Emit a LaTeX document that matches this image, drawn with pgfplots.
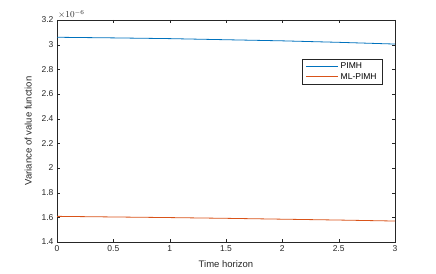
\documentclass[border=0pt]{standalone}
\usepackage{pgfplots}
\pgfplotsset{compat=1.18}
\usepackage{fontspec}
\setmainfont{Liberation Sans}
\definecolor{mblue}{RGB}{0,114,189}
\definecolor{morange}{RGB}{217,83,25}
\definecolor{axgray}{RGB}{38,38,38}
\begin{document}
\begin{tikzpicture}
\begin{axis}[
  scale only axis, width=338pt, height=222pt,
  xmin=0, xmax=3, ymin=1.4e-6, ymax=3.2e-6,
  xtick={0,0.5,...,3},
  ytick={1.4e-6,1.6e-6,1.8e-6,2.0e-6,2.2e-6,2.4e-6,2.6e-6,2.8e-6,3.0e-6,3.2e-6},
  scaled y ticks=base 10:6,
  ytick scale label code/.code={$\times 10^{-6}$},
  every y tick scale label/.style={at={(rel axis cs:0,1)}, anchor=south west, inner sep=1pt, font=\fontsize{9}{10}\selectfont, text=axgray},
  y tick label style={/pgf/number format/fixed},
  /pgf/number format/assume math mode=true,
  tick align=inside, tick pos=both,
  major tick length=3pt,
  axis line style={axgray, line width=0.5pt},
  tick style={axgray},
  ticklabel style={font=\fontsize{8.5}{10}\selectfont, text=axgray},
  xlabel={Time horizon}, ylabel={Variance of value function},
  label style={font=\fontsize{9.5}{11}\selectfont, text=axgray},
  xlabel style={yshift=-2pt},
  ylabel style={yshift=3pt},
  legend style={at={(0.964,0.826)}, anchor=north east, font=\fontsize{8.5}{10}\selectfont,
    draw=axgray, inner xsep=4pt, inner ysep=2pt, row sep=-1pt},
  legend image code/.code={\draw[#1, line width=0.8pt] (0pt,0pt) -- (32pt,0pt);},
  legend cell align=left,
]
\addplot[mblue, line width=0.8pt] coordinates {
  (0,3.060e-6) (0.5,3.055e-6) (1,3.049e-6) (1.5,3.040e-6)
  (2,3.031e-6) (2.5,3.019e-6) (3,3.005e-6)
};
\addlegendentry{PIMH}
\addplot[morange, line width=0.8pt] coordinates {
  (0,1.608e-6) (0.5,1.603e-6) (1,1.598e-6) (1.5,1.592e-6)
  (2,1.585e-6) (2.5,1.578e-6) (3,1.570e-6)
};
\addlegendentry{ML-PIMH}
\coordinate (ll) at (rel axis cs:0,0);
\coordinate (ur) at (rel axis cs:1,1);
\end{axis}
\pgfresetboundingbox
\path[use as bounding box] ([shift={(-57pt,-31pt)}]ll) rectangle ([shift={(41pt,20pt)}]ur);
\end{tikzpicture}
\end{document}
